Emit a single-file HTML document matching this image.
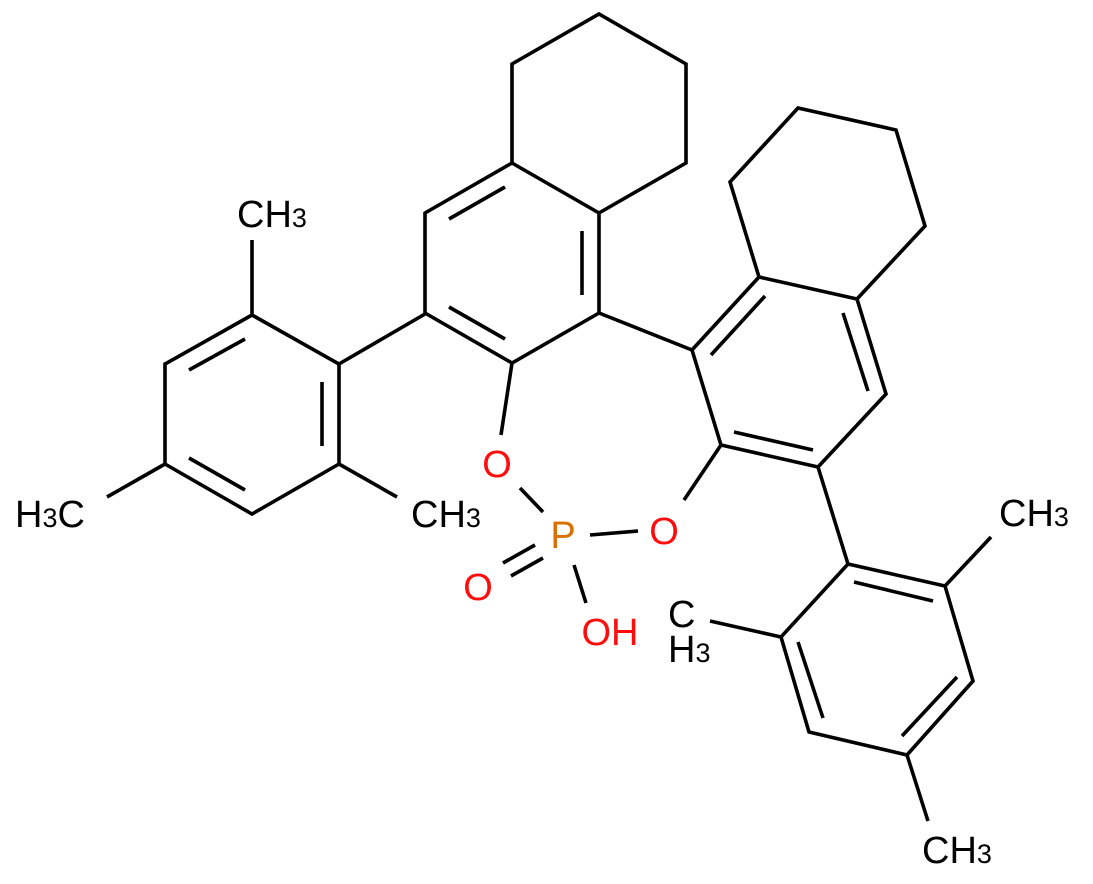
<!DOCTYPE html>
<html><head><meta charset="utf-8"><style>
html,body{margin:0;padding:0;background:#fff;}
svg{display:block;}
text{font-family:"Liberation Sans",Arial,sans-serif;font-size:38px;}
</style></head><body>
<svg width="1093" height="884" viewBox="0 0 1093 884" xmlns="http://www.w3.org/2000/svg">
<g stroke="#000" stroke-width="3.6" fill="none" stroke-linecap="butt" stroke-linejoin="miter">
<polyline points="512,163 512,64 599,14 686,64 686,163 599,213"/>
<polygon points="512,163 599,213 599,313 512,363 425,313 425,213"/>
<line x1="449" y1="219" x2="505" y2="187"/>
<line x1="582" y1="231" x2="582" y2="295"/>
<line x1="505" y1="339" x2="449" y2="307"/>
<line x1="425" y1="314" x2="339" y2="364"/>
<polygon points="252,315 339,364 339,464 252,514 165,464 165,364"/>
<line x1="245" y1="339" x2="189" y2="370"/>
<line x1="322" y1="382" x2="322" y2="446"/>
<line x1="189" y1="458" x2="245" y2="490"/>
<line x1="252" y1="315" x2="252" y2="240"/>
<line x1="339" y1="464" x2="397" y2="497"/>
<line x1="165" y1="464" x2="107" y2="497"/>
<line x1="599" y1="313" x2="692" y2="350"/>
<polyline points="759,277 730,182 798,108 896,130 925,226 857,299"/>
<polygon points="759,277 857,299 886,394 818,467 721,445 692,350"/>
<line x1="711" y1="355" x2="765" y2="296"/>
<line x1="843" y1="313" x2="868" y2="391"/>
<line x1="734" y1="432" x2="813" y2="450"/>
<line x1="818" y1="467" x2="848" y2="564"/>
<polygon points="848,564 945,586 973,681 907,755 809,732 781,637"/>
<line x1="854" y1="582" x2="933" y2="601"/>
<line x1="957" y1="677" x2="902" y2="736"/>
<line x1="798" y1="642" x2="823" y2="718"/>
<line x1="945" y1="586" x2="991" y2="537"/>
<line x1="781" y1="637" x2="710" y2="621"/>
<line x1="907" y1="755" x2="928" y2="821"/>
<line x1="512" y1="363" x2="501" y2="435"/>
<line x1="520" y1="488" x2="543" y2="512"/>
<line x1="590" y1="535" x2="638" y2="531"/>
<line x1="684" y1="500" x2="721" y2="445"/>
<line x1="503" y1="563" x2="535" y2="545"/>
<line x1="511" y1="576" x2="543" y2="558"/>
<line x1="574" y1="565" x2="586" y2="603"/>
</g>
<g fill="#000">
<text x="237" y="227">CH<tspan font-size="27">3</tspan></text>
<text x="411" y="527">CH<tspan font-size="27">3</tspan></text>
<text x="15" y="527">H<tspan font-size="27">3</tspan>C</text>
<text x="999" y="526">CH<tspan font-size="27">3</tspan></text>
<text x="668" y="627">C</text>
<text x="668" y="662">H<tspan font-size="27">3</tspan></text>
<text x="922" y="863">CH<tspan font-size="27">3</tspan></text>
</g>
<g fill="#ff0d0d" text-anchor="middle">
<text x="497" y="477">O</text>
<text x="664" y="544">O</text>
<text x="478" y="600">O</text>
<text x="610" y="645">OH</text>
</g>
<text x="563" y="548" fill="#d97000" text-anchor="middle">P</text>
</svg>
</body></html>
